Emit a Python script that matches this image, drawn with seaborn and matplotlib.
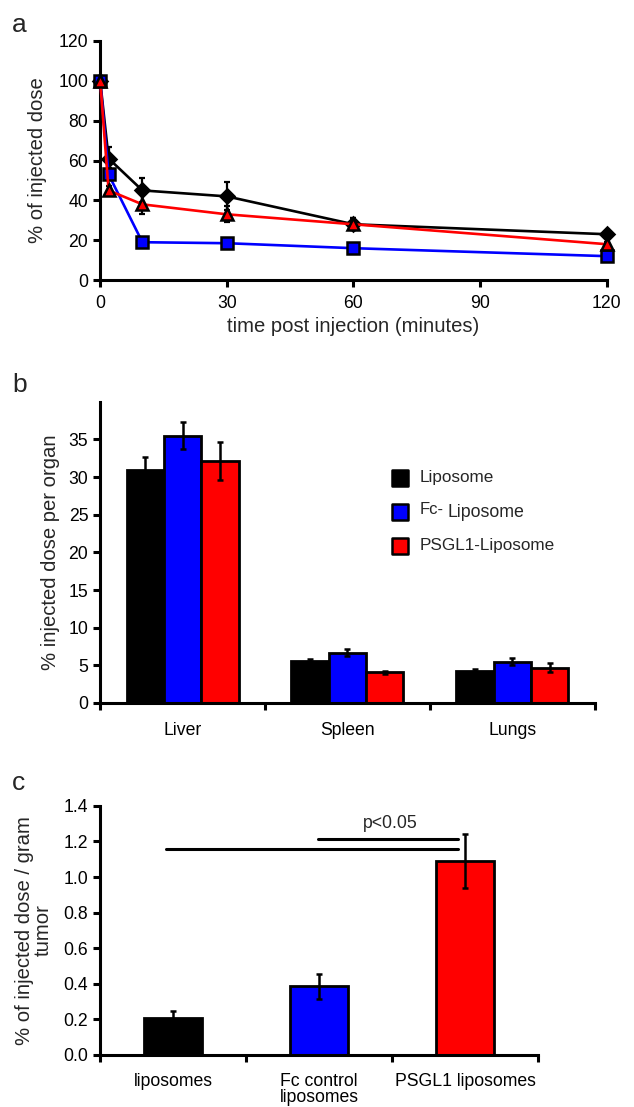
import numpy as np
import pandas as pd
import seaborn as sns
import matplotlib
matplotlib.use("Agg")
from matplotlib import pyplot as plt

# panel a: blood clearance
time_min = [0, 2, 10, 30, 60, 120]
lipo_a = [100, 61, 45, 42, 28, 23]
lipo_a_err = [0, 6, 6, 7, 3, 1]
fc_a = [100, 53, 19, 18.5, 16, 12]
fc_a_err = [0, 3, 1, 1, 1, 1]
psgl_a = [100, 45, 38, 33, 28, 18]
psgl_a_err = [0, 2, 5, 4, 3, 1]

# panel b: organ biodistribution
organs = ["Liver", "Spleen", "Lungs"]
groups_b = ["Liposome", "Fc- Liposome", "PSGL1-Liposome"]
lipo_b = [31.0, 5.6, 4.3]
lipo_b_err = [1.7, 0.2, 0.2]
fc_b = [35.5, 6.7, 5.5]
fc_b_err = [1.8, 0.4, 0.5]
psgl_b = [32.1, 4.1, 4.7]
psgl_b_err = [2.5, 0.2, 0.6]

# panel c: tumor uptake
groups_c = ["liposomes", "Fc control\nliposomes", "PSGL1 liposomes"]
tumor_c = [0.21, 0.385, 1.09]
tumor_c_err = [0.035, 0.07, 0.15]

colors = ["#000000", "#0000ff", "#ff0000"]
TICK_FS = 12.7
LABEL_FS = 14.6

sns.set_style("ticks")
plt.rcParams["font.family"] = ["Liberation Sans", "DejaVu Sans"]
plt.rcParams["font.size"] = TICK_FS
plt.rcParams["axes.linewidth"] = 2.2
plt.rcParams["xtick.major.width"] = 2.2
plt.rcParams["ytick.major.width"] = 2.2
plt.rcParams["xtick.major.size"] = 5
plt.rcParams["ytick.major.size"] = 5
plt.rcParams["xtick.labelsize"] = TICK_FS
plt.rcParams["ytick.labelsize"] = TICK_FS
plt.rcParams["xtick.color"] = "black"
plt.rcParams["ytick.color"] = "black"
plt.rcParams["axes.edgecolor"] = "black"

fig = plt.figure(figsize=(6.34, 11.07), dpi=100)
ax_a = fig.add_axes([0.158, 0.747, 0.799, 0.216])
ax_b = fig.add_axes([0.158, 0.365, 0.780, 0.272])
ax_c = fig.add_axes([0.158, 0.047, 0.691, 0.225])

# ---- panel a
series_a = [(lipo_a, lipo_a_err, "D"), (fc_a, fc_a_err, "s"), (psgl_a, psgl_a_err, "^")]
for (vals, errs, mk), col in zip(series_a, colors):
    sns.lineplot(x=time_min, y=vals, ax=ax_a, color=col, lw=1.9,
                 marker=mk, markersize=8.5 if mk != "D" else 7,
                 markeredgecolor="black", markeredgewidth=1.8, clip_on=False, zorder=3)
    ax_a.errorbar(time_min, vals, yerr=errs, fmt="none", ecolor="black",
                  elinewidth=1.6, capsize=2.5, capthick=1.6, zorder=2, clip_on=False)
ax_a.set_xlim(0, 120)
ax_a.set_ylim(0, 120)
ax_a.set_xticks([0, 30, 60, 90, 120])
ax_a.set_yticks(range(0, 121, 20))
ax_a.tick_params(axis="x", pad=6)
ax_a.set_xlabel("time post injection (minutes)", fontsize=LABEL_FS, labelpad=3)
ax_a.set_ylabel("% of injected dose", fontsize=LABEL_FS, labelpad=8)
sns.despine(ax=ax_a)

# ---- panel b
df_b = pd.DataFrame({
    "organ": organs * 3,
    "group": np.repeat(groups_b, 3),
    "value": lipo_b + fc_b + psgl_b,
})
errs_b = [lipo_b_err, fc_b_err, psgl_b_err]
width_b = 0.68
sns.barplot(data=df_b, x="organ", y="value", hue="group", palette=colors,
            saturation=1, width=width_b, gap=0, ax=ax_b, edgecolor="black",
            linewidth=2, errorbar=None, legend=False)
for j, (vals, errs) in enumerate(zip([lipo_b, fc_b, psgl_b], errs_b)):
    xs = np.arange(3) + (j - 1) * width_b / 3
    ax_b.errorbar(xs, vals, yerr=errs, fmt="none", ecolor="black",
                  elinewidth=1.8, capsize=2.5, capthick=1.8)
ax_b.set_xlim(-0.5, 2.5)
ax_b.set_ylim(0, 40)
ax_b.set_yticks(range(0, 36, 5))
ax_b.set_xticks([-0.5, 0.5, 1.5, 2.5])
ax_b.set_xticklabels([])
ax_b.set_xticks(range(3), minor=True)
ax_b.set_xticklabels(organs, minor=True)
ax_b.tick_params(axis="x", which="minor", length=0, pad=14)
ax_b.set_xlabel("")
ax_b.set_ylabel("% injected dose per organ", fontsize=LABEL_FS, labelpad=6)
sns.despine(ax=ax_b)
leg_y = [0.748, 0.635, 0.522]
for yy, col in zip(leg_y, colors):
    ax_b.scatter([0.606], [yy], marker="s", s=130, color=col, edgecolor="black",
                 linewidth=1.8, transform=ax_b.transAxes, clip_on=False)
ax_b.text(0.645, leg_y[0], groups_b[0], transform=ax_b.transAxes, va="center", fontsize=12.3)
fc_word, lipo_word = groups_b[1].split(" ")
ax_b.text(0.645, leg_y[1] + 0.007, fc_word, transform=ax_b.transAxes, va="center", fontsize=12)
ax_b.text(0.702, leg_y[1] - 0.004, lipo_word, transform=ax_b.transAxes, va="center", fontsize=12.8)
ax_b.text(0.645, leg_y[2], groups_b[2], transform=ax_b.transAxes, va="center", fontsize=12.3)

# ---- panel c
df_c = pd.DataFrame({"group": groups_c, "value": tumor_c})
sns.barplot(data=df_c, x="group", y="value", hue="group", palette=colors,
            saturation=1, width=0.4, ax=ax_c, edgecolor="black", linewidth=2,
            errorbar=None, legend=False)
ax_c.errorbar(np.arange(3), tumor_c, yerr=tumor_c_err, fmt="none", ecolor="black",
              elinewidth=1.8, capsize=2.5, capthick=1.8)
ax_c.set_xlim(-0.5, 2.5)
ax_c.set_ylim(0, 1.4)
yt = np.arange(0, 1.41, 0.2)
ax_c.set_yticks(yt)
ax_c.set_yticklabels([f"{v:.1f}" for v in yt])
ax_c.set_xticks([-0.5, 0.5, 1.5, 2.5])
ax_c.set_xticklabels([])
ax_c.set_xticks(range(3), minor=True)
ax_c.set_xticklabels(groups_c, minor=True, linespacing=0.9, va="top")
ax_c.tick_params(axis="x", which="minor", length=0, pad=13)
ax_c.set_xlabel("")
ax_c.set_ylabel("% of injected dose / gram\ntumor", fontsize=LABEL_FS, linespacing=0.95,
                labelpad=8)
sns.despine(ax=ax_c)
ax_c.plot([0.99, 1.95], [1.216, 1.216], color="black", lw=2.2)
ax_c.plot([-0.05, 1.95], [1.16, 1.16], color="black", lw=2.2)
ax_c.text(1.49, 1.30, "p<0.05", ha="center", va="center", fontsize=12.7)

for lab, y in [("a", 0.971), ("b", 0.646), ("c", 0.286)]:
    fig.text(0.019, y, lab, fontsize=19, va="baseline")

fig.savefig("out.png", dpi=100)
